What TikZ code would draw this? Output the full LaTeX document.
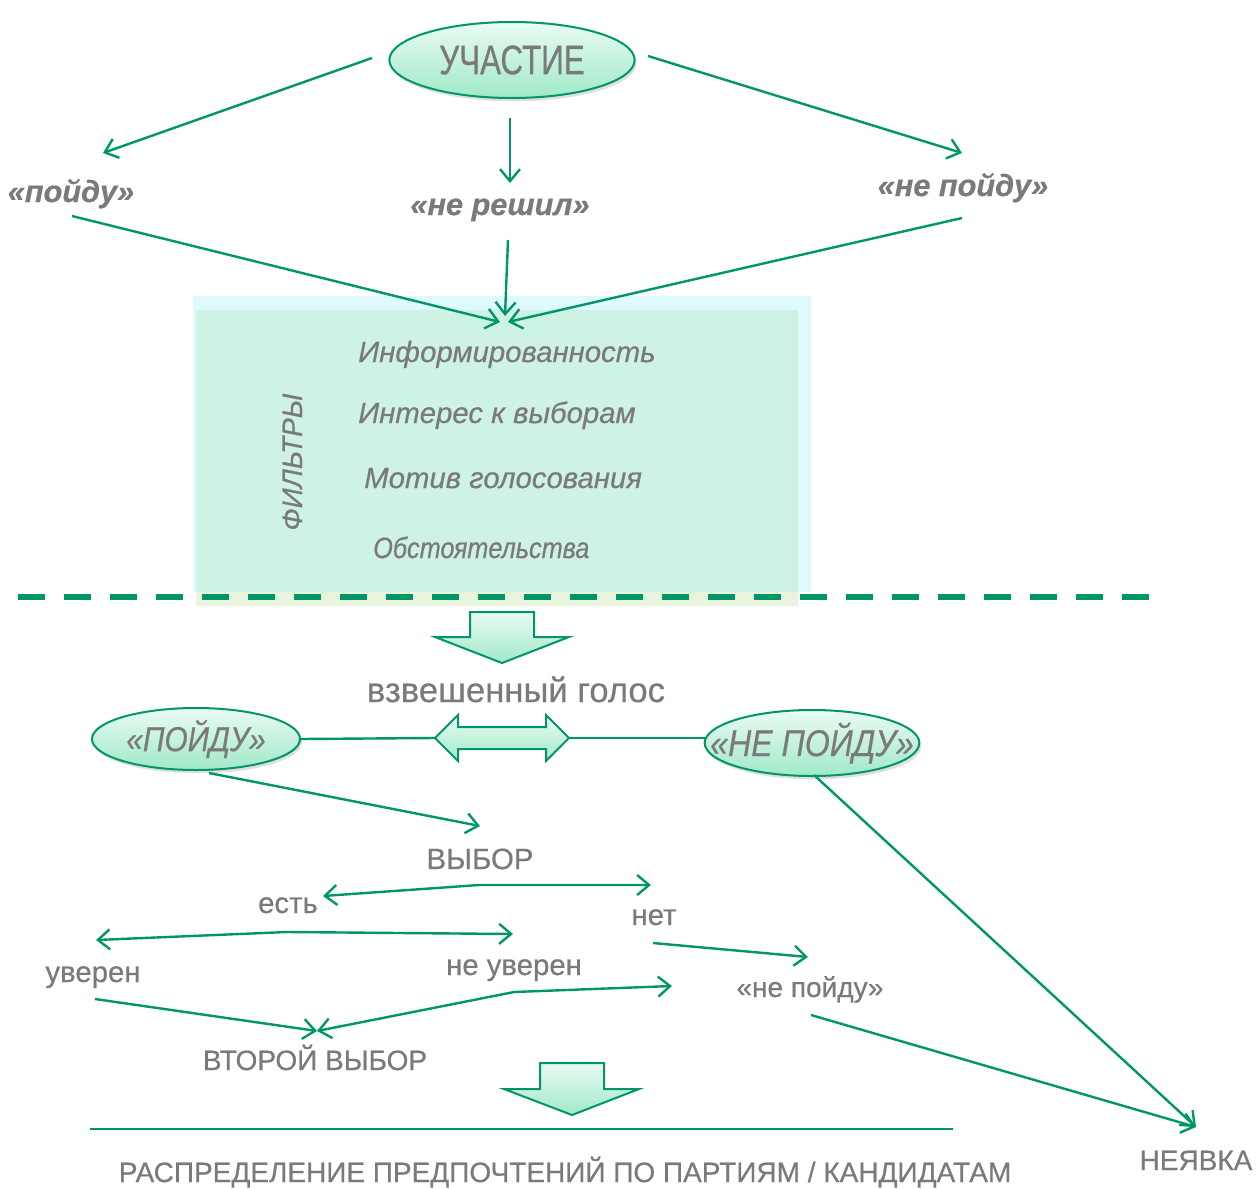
\documentclass[tikz,border=0pt]{standalone}
\usepackage{fontspec}
\setmainfont[FakeBold=0.5]{Liberation Sans}
\newfontfamily\condA[FakeStretch=0.76,FakeBold=0.5]{Liberation Sans}
\newfontfamily\condB[FakeStretch=0.86,FakeBold=0.5]{Liberation Sans}
\usetikzlibrary{arrows.meta,shadows,shapes.geometric}
\definecolor{lgreen}{RGB}{0,150,104}
\definecolor{tgray}{RGB}{122,122,122}
\definecolor{boxcyan}{RGB}{222,250,252}
\definecolor{boxmint}{RGB}{206,243,229}
\definecolor{boxband}{RGB}{232,245,220}
\definecolor{fillTop}{RGB}{234,251,243}
\definecolor{fillBot}{RGB}{160,233,200}
\tikzset{
  barb/.tip={Straight Barb[length=9pt,width=15pt]},
  conn/.style={draw=lgreen, line width=1.8pt, -barb},
  conntwo/.style={draw=lgreen, line width=1.8pt, barb-barb},
  link/.style={draw=lgreen, line width=1.8pt},
  oval/.style={ellipse, draw=lgreen, line width=1.5pt, top color=fillTop, bottom color=fillBot,
     inner ysep=0pt, inner xsep=-40pt, text=tgray,
     drop shadow={opacity=0.25, shadow xshift=1.5pt, shadow yshift=-2.5pt}},
  blockarrow/.style={draw=lgreen, line width=1.5pt, top color=fillTop, bottom color=fillBot},
  lbl/.style={text=tgray, inner sep=0pt, anchor=base, font=\fontsize{22}{24}\selectfont},
  toplbl/.style={lbl, font=\fontsize{23}{26}\selectfont\bfseries\itshape},
  filt/.style={text=tgray, inner sep=0pt, anchor=base west, font=\fontsize{22}{24}\selectfont\itshape},
}
\begin{document}
\begin{tikzpicture}[x=0.75pt,y=-0.75pt]
\useasboundingbox (0,0) rectangle (1257,1189);

% filter box
\fill[boxcyan] (193,296) rectangle (811,592);
\fill[boxmint] (196,310) rectangle (798,592);
\fill[boxband] (196,592) rectangle (798,606);
\draw[lgreen, line width=4.5pt, dash pattern=on 20.5pt off 14pt] (18,597) -- (1150,597);

% top ellipse and labels
\node[oval, minimum width=184pt, minimum height=57pt, font=\condA\fontsize{31}{33}\selectfont] (uch) at (512,60) {УЧАСТИЕ};
\node[toplbl] (poidu) at (71,202) {«пойду»};
\node[toplbl] (nereshil) at (500,215) {«не решил»};
\node[toplbl] (nepoidu) at (963,196) {«не пойду»};

\coordinate (uL) at (372,58);  \coordinate (pA) at (103,153);
\coordinate (uM) at (510,118); \coordinate (pB) at (510,183);
\coordinate (uR) at (648,56);  \coordinate (pC) at (962,153);
\draw[conn] (uL) -- (pA);
\draw[conn] (uM) -- (pB);
\draw[conn] (uR) -- (pC);

\coordinate (qA) at (72,216);  \coordinate (fA) at (500,322);
\coordinate (qB) at (508,240); \coordinate (fB) at (505,316);
\coordinate (qC) at (962,218); \coordinate (fC) at (508,322);
\draw[conn] (qA) -- (fA);
\draw[conn] (qB) -- (fB);
\draw[conn] (qC) -- (fC);

% filters
\node[filt] (f1) at (358,362) {Информированность};
\node[filt] (f2) at (358,423) {Интерес к выборам};
\node[filt] (f3) at (364,488) {Мотив голосования};
\node[filt, font=\condB\fontsize{22}{24}\selectfont\itshape] (f4) at (373,558) {Обстоятельства};
\node[text=tgray, inner sep=0pt, anchor=base, rotate=90, font=\fontsize{21}{24}\selectfont\itshape] (filtry) at (302,462) {ФИЛЬТРЫ};

% block arrow 1
\draw[blockarrow] (470,612) -- (534,612) -- (534,637) -- (569,637) -- (502,663) -- (435,637) -- (470,637) -- cycle;
\node[lbl, font=\fontsize{26}{28}\selectfont] (vzv) at (516,702) {взвешенный голос};

% second row ellipses
\node[oval, minimum width=156pt, minimum height=46.5pt, font=\condB\fontsize{26}{28}\selectfont\itshape] (P) at (196,739) {«ПОЙДУ»};
\node[oval, minimum width=161pt, minimum height=49.5pt, font=\condB\fontsize{28}{30}\selectfont\itshape] (NP) at (812,743) {«НЕ ПОЙДУ»};

% double arrow
\coordinate (dL) at (435,738);
\coordinate (dR) at (569,738);
\draw[blockarrow] (dL) -- (458,715) -- (458,727) -- (546,727) -- (546,715) -- (dR) -- (546,761) -- (546,749) -- (458,749) -- (458,761) -- cycle;
\draw[link] (P.east) -- (dL);
\coordinate (npW) at (707,738);
\draw[link] (dR) -- (npW);

% choice tree
\node[lbl] (vybor) at (480,869) {ВЫБОР};
\coordinate (pS) at (209,773); \coordinate (vT) at (480,826);
\draw[conn] (pS) -- (vT);

\node[lbl] (est) at (288,913) {есть};
\node[lbl] (net) at (654,925) {нет};
\coordinate (estT) at (323,896); \coordinate (v1) at (479,885); \coordinate (netT) at (651,885);
\draw[conntwo] (estT) -- (v1) -- (netT);

\node[lbl] (uv) at (93,982) {уверен};
\node[lbl] (neuv) at (514,975) {не уверен};
\coordinate (uvT) at (96,940); \coordinate (v2) at (287,932); \coordinate (neuvT) at (513,934);
\draw[conntwo] (uvT) -- (v2) -- (neuvT);

\node[lbl, font=\fontsize{21}{24}\selectfont] (np2) at (810,997) {«не пойду»};
\coordinate (netS) at (653,943); \coordinate (np2T) at (808,957);
\draw[conn] (netS) -- (np2T);

\node[lbl, font=\fontsize{21}{24}\selectfont] (vtor) at (315,1070) {ВТОРОЙ ВЫБОР};
\coordinate (uvS) at (95,999); \coordinate (vtT) at (317,1031);
\draw[conn] (uvS) -- (vtT);
\coordinate (v3) at (514,992); \coordinate (np2L) at (672,986);
\draw[conntwo] (vtT) -- (v3) -- (np2L);

% block arrow 2
\draw[blockarrow] (540,1063) -- (604,1063) -- (604,1089) -- (639,1089) -- (572,1115) -- (504,1089) -- (540,1089) -- cycle;
\coordinate (hl1) at (90,1129); \coordinate (hl2) at (953,1129);
\draw[link] (hl1) -- (hl2);
\node[lbl, font=\fontsize{21}{23}\selectfont] (raspr) at (565,1182) {РАСПРЕДЕЛЕНИЕ ПРЕДПОЧТЕНИЙ ПО ПАРТИЯМ / КАНДИДАТАМ};

% nejavka
\node[lbl, font=\fontsize{21}{24}\selectfont] (neyavka) at (1196,1170) {НЕЯВКА};
\coordinate (nyT) at (1196,1127);
\coordinate (np2S) at (811,1015);
\coordinate (npS) at (814,775);
\draw[conn] (np2S) -- (nyT);
\draw[conn] (npS) -- (nyT);
\end{tikzpicture}
\end{document}
